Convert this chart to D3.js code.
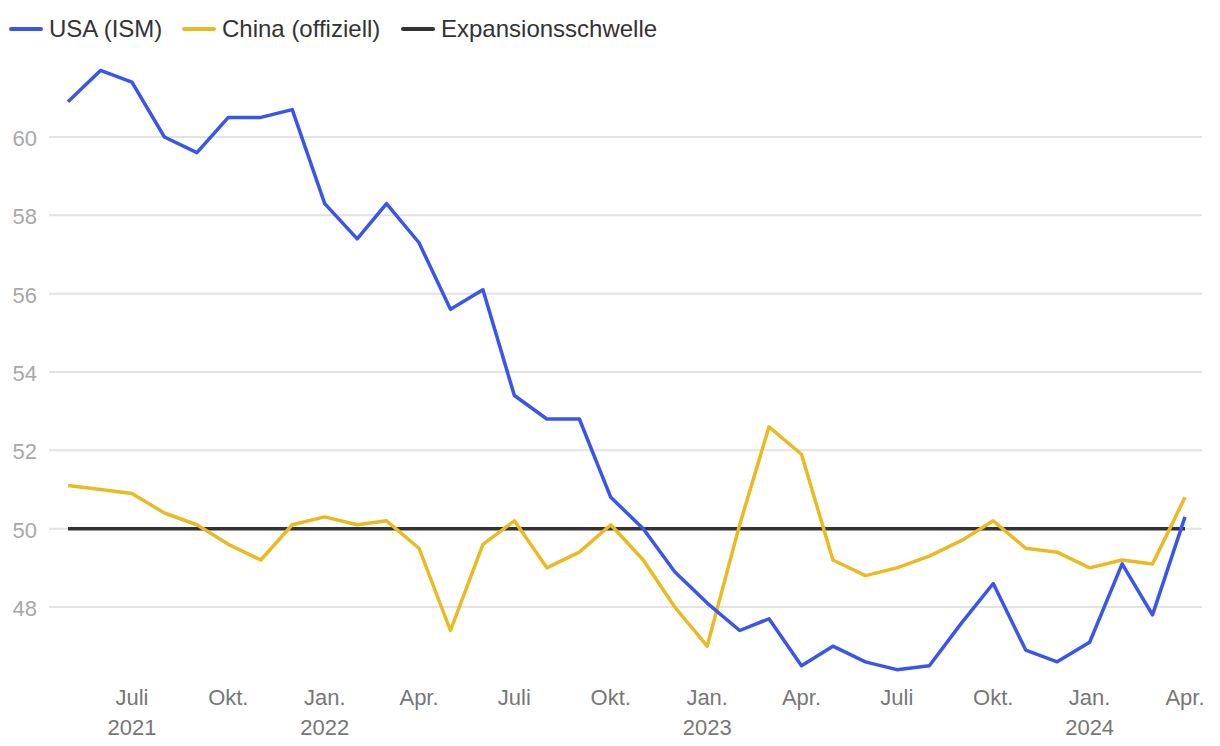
<!DOCTYPE html>
<html><head><meta charset="utf-8">
<script src="https://cdn.jsdelivr.net/npm/d3@7"></script>
<style>body{margin:0;background:#fff;font-family:"Liberation Sans",Arial,sans-serif}</style>
</head><body><svg id="c" width="1220" height="746"></svg>
<script>
const startMonth = "2021-05";
const usa = [60.9,61.7,61.4,60.0,59.6,60.5,60.5,60.7,58.3,57.4,58.3,57.3,55.6,56.1,53.4,52.8,52.8,50.8,50.0,48.9,48.1,47.4,47.7,46.5,47.0,46.6,46.4,46.5,47.6,48.6,46.9,46.6,47.1,49.1,47.8,50.3];
const china = [51.1,51.0,50.9,50.4,50.1,49.6,49.2,50.1,50.3,50.1,50.2,49.5,47.4,49.6,50.2,49.0,49.4,50.1,49.2,48.0,47.0,50.1,52.6,51.9,49.2,48.8,49.0,49.3,49.7,50.2,49.5,49.4,49.0,49.2,49.1,50.8];
const threshold = 50;
const yTicks = [48,50,52,54,56,58,60];
const monthNames = {0:"Jan.",3:"Apr.",6:"Juli",9:"Okt."};
const seriesNames = ["USA (ISM)","China (offiziell)","Expansionsschwelle"];
const colors = ["#3a55eb","#ebba22","#333333"];

const parse = d3.timeParse("%Y-%m");
const s0 = parse(startMonth);
const dates = usa.map((_, i) => d3.timeMonth.offset(s0, i));

const svg = d3.select("#c");
const x = d3.scaleTime().domain([dates[0], dates[dates.length-1]]).range([68,1185]);
const y = d3.scaleLinear().domain([48,60]).range([607,137]);

// gridlines
svg.append("g").selectAll("line").data(yTicks).join("line")
  .attr("x1",49).attr("x2",1202).attr("y1",d=>y(d)).attr("y2",d=>y(d))
  .attr("stroke","#e3e3e3").attr("stroke-width",2);
svg.append("g").selectAll("text").data(yTicks).join("text")
  .attr("x",37).attr("y",d=>y(d)+9).attr("text-anchor","end")
  .attr("fill","#a8a8a8").attr("font-size",22).text(d=>d);

// x ticks
const xTicks = d3.timeMonth.range(parse("2021-07"), d3.timeMonth.offset(dates[dates.length-1],1), 3);
const xg = svg.append("g");
xTicks.forEach((d,i) => {
  const m = d.getMonth();
  xg.append("text").attr("x",x(d)).attr("y",705).attr("text-anchor","middle")
    .attr("fill","#777").attr("font-size",22).text(monthNames[m]);
  if (m===0 || i===0) {
    xg.append("text").attr("x",x(d)).attr("y",735).attr("text-anchor","middle")
      .attr("fill","#777").attr("font-size",22).text(d.getFullYear());
  }
});

// threshold
const thr = dates.map(()=>threshold);
const line = d3.line().x((d,i)=>x(dates[i])).y(d=>y(d));
svg.append("path").attr("d",line(thr)).attr("fill","none").attr("stroke",colors[2]).attr("stroke-width",3.5);
svg.append("path").attr("d",line(china)).attr("fill","none").attr("stroke",colors[1]).attr("stroke-width",3.5).attr("stroke-linejoin","round");
svg.append("path").attr("d",line(usa)).attr("fill","none").attr("stroke",colors[0]).attr("stroke-width",3.5).attr("stroke-linejoin","round");

// legend
const lx = [11,184,403];
seriesNames.forEach((n,i)=>{
  svg.append("line").attr("x1",lx[i]).attr("x2",lx[i]+30).attr("y1",29).attr("y2",29)
    .attr("stroke",colors[i]).attr("stroke-width",4).attr("stroke-linecap","round");
  svg.append("text").attr("x",lx[i]+38).attr("y",37).attr("fill","#333").attr("font-size",24).text(n);
});
</script></body></html>
